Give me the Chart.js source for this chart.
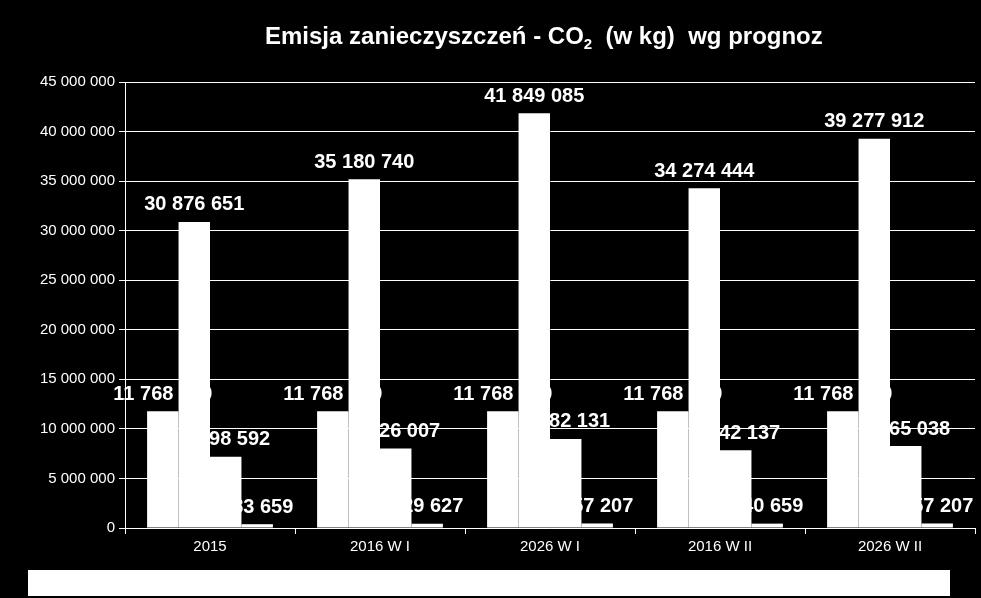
<!DOCTYPE html>
<html><head><meta charset="utf-8">
<script src="https://cdn.jsdelivr.net/npm/chart.js@4"></script>
<style>html,body{margin:0;background:#000}#w{width:981px;height:598px}</style></head>
<body><div id="w"><canvas id="c"></canvas></div>
<script>
const categories=["2015","2016 W I","2026 W I","2016 W II","2026 W II"];
const seriesA=[11768000,11768000,11768000,11768000,11768000];
const seriesB=[30876651,35180740,41849085,34274444,39277912];
const seriesC=[7198592,8026007,8982131,7842137,8265038];
const seriesD=[383659,429627,457207,440659,457207];
const yMax=45000000, yStep=5000000;
const fmt=v=>String(Math.round(v)).replace(/\B(?=(\d{3})+(?!\d))/g,' ');
const F='"Liberation Sans", Arial, sans-serif';
const deco={id:'deco',
 beforeDraw(c){const x=c.ctx;x.save();x.fillStyle='#000';x.fillRect(0,0,c.width,c.height);x.restore();},
 afterDraw(c){const x=c.ctx;x.save();
  x.fillStyle='#fff';x.fillRect(28,570,922,26);
  x.textBaseline='alphabetic';x.textAlign='left';
  let px=265,by=44;
  x.font='bold 24px '+F;const t1='Emisja zanieczyszczeń - CO';x.fillText(t1,px,by);px+=x.measureText(t1).width;
  x.font='bold 15px '+F;x.fillText('2',px,by+5);px+=x.measureText('2').width;
  x.font='bold 24px '+F;x.fillText('  (w kg)  wg prognoz',px,by);
  x.font='bold 20px '+F;x.textAlign='center';x.textBaseline='bottom';
  c.data.datasets.forEach((d,i)=>{c.getDatasetMeta(i).data.forEach((b,j)=>{x.fillText(fmt(d.data[j]),b.x,b.y-7);});});
  x.restore();}};
new Chart(document.getElementById('c'),{type:'bar',
 data:{labels:categories,datasets:[seriesA,seriesB,seriesC,seriesD].map(d=>({data:d,backgroundColor:'#fff',borderWidth:0}))},
 options:{responsive:true,maintainAspectRatio:false,animation:false,devicePixelRatio:1,
  layout:{padding:{top:82,bottom:32,right:6,left:0}},
  plugins:{legend:{display:false},tooltip:{enabled:false}},
  datasets:{bar:{categoryPercentage:0.74,barPercentage:1}},
  scales:{
   x:{grid:{display:true,drawOnChartArea:false,color:'#fff',tickLength:6},border:{color:'#fff'},
      ticks:{color:'#fff',font:{family:F,size:15},padding:4},afterFit(s){s.height=38;}},
   y:{min:0,max:yMax,ticks:{stepSize:yStep,color:'#fff',font:{family:F,size:15},callback:v=>fmt(v),padding:4},
      grid:{color:'#fff',tickLength:6},border:{color:'#fff'},afterFit(s){s.width=125;}}
  }},plugins:[deco]});
</script></body></html>
